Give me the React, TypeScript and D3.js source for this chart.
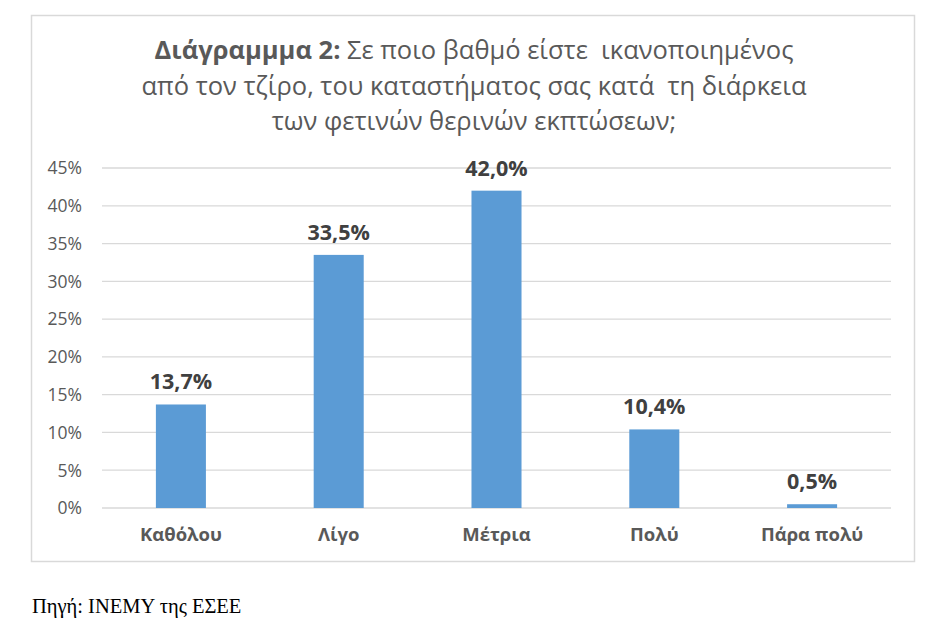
import React from 'react';
import * as d3 from 'd3';

const categories = ['Καθόλου', 'Λίγο', 'Μέτρια', 'Πολύ', 'Πάρα πολύ'];
const values = [13.7, 33.5, 42.0, 10.4, 0.5];
const yTicks = [0, 5, 10, 15, 20, 25, 30, 35, 40, 45];
const titleBold = 'Διάγραμμμα 2:';
const titleLines = [
  ' Σε ποιο βαθμό είστε  ικανοποιημένος',
  'από τον τζίρο, του καταστήματος σας κατά  τη διάρκεια',
  'των φετινών θερινών εκπτώσεων;',
];
const sourceText = 'Πηγή: ΙΝΕΜΥ της ΕΣΕΕ';

const W = 947;
const H = 635;
const plot = { left: 102, right: 891, top: 168, bottom: 508 };
const sans = "'Open Sans', 'DejaVu Sans', sans-serif";

export default function App() {
  const x = d3.scaleBand<string>().domain(categories).range([plot.left, plot.right])
    .paddingInner(0.683).paddingOuter(0.3415);
  const y = d3.scaleLinear().domain([0, 45]).range([plot.bottom, plot.top]);
  const fmt = (v: number) => v.toFixed(1).replace('.', ',') + '%';

  return (
    <svg width={W} height={H} style={{ position: 'absolute', left: 0, top: 0, background: '#fff' }}>
      <rect x={31.5} y={15.5} width={883} height={546} fill="#fff" stroke="#d9d9d9" strokeWidth={1.5} />

      {/* title keeps the double spaces of the original */}
      <g fontFamily={sans} fill="#595959" textAnchor="middle" fontSize={25.5}>
        <text x={474} y={59} xmlSpace="preserve">
          <tspan fontWeight="bold">{titleBold}</tspan>
          <tspan>{titleLines[0]}</tspan>
        </text>
        <text x={474} y={95} xmlSpace="preserve">{titleLines[1]}</text>
        <text x={474} y={130} xmlSpace="preserve">{titleLines[2]}</text>
      </g>

      <g>
        {yTicks.map(t => (
          <g key={t}>
            <line x1={plot.left} x2={plot.right} y1={y(t)} y2={y(t)} stroke="#d9d9d9" strokeWidth={1.3} />
            <text x={82} y={y(t)} dy="0.36em" textAnchor="end" fontFamily={sans} fontSize={17.5} fill="#595959">{t}%</text>
          </g>
        ))}
      </g>

      <g>
        {categories.map((c, i) => (
          <g key={c}>
            <rect x={x(c)} y={y(values[i])} width={x.bandwidth()} height={y(0) - y(values[i])} fill="#5b9bd5" />
            <text x={x(c)! + x.bandwidth() / 2} y={y(values[i]) - 15} textAnchor="middle" fontFamily={sans}
              fontWeight="bold" fontSize={21.5} fill="#404040">{fmt(values[i])}</text>
            <text x={x(c)! + x.bandwidth() / 2} y={541} textAnchor="middle" fontFamily={sans}
              fontWeight="bold" fontSize={18.5} fill="#595959">{c}</text>
          </g>
        ))}
      </g>

      <text x={32} y={613} fontFamily="'Liberation Serif', 'DejaVu Serif', serif" fontSize={20.5} fill="#000">{sourceText}</text>
    </svg>
  );
}
